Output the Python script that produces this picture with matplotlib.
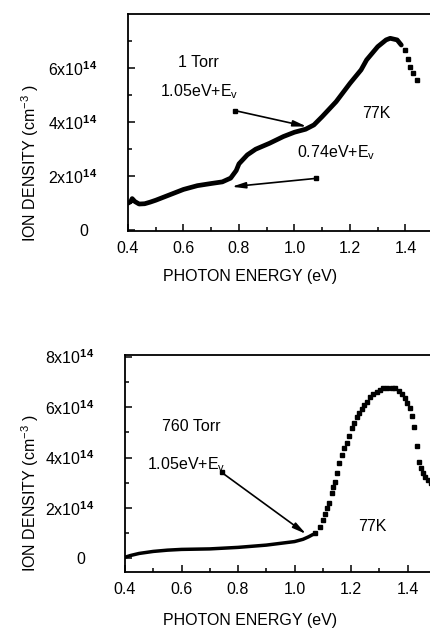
import numpy as np
import matplotlib.pyplot as plt

plt.rcParams['font.family'] = ['Liberation Sans', 'DejaVu Sans']
plt.rcParams['mathtext.fontset'] = 'custom'
plt.rcParams['mathtext.rm'] = 'Liberation Sans'
plt.rcParams['mathtext.it'] = 'Liberation Sans:italic'
plt.rcParams['mathtext.bf'] = 'Liberation Sans:bold'

# ion density in units of 1e14 cm^-3
# 1 Torr, dense part of the curve
e_top = [0.40, 0.41, 0.415, 0.425, 0.44, 0.46, 0.48, 0.50, 0.55, 0.60, 0.65, 0.70,
         0.74, 0.77, 0.79, 0.80, 0.83, 0.86, 0.91, 0.96, 1.00, 1.04, 1.07, 1.10,
         1.15, 1.20, 1.24, 1.26, 1.30, 1.33, 1.345, 1.37, 1.385]
n_top = [0.99, 1.05, 1.16, 1.05, 0.96, 0.97, 1.03, 1.10, 1.30, 1.50, 1.64, 1.72,
         1.78, 1.92, 2.20, 2.45, 2.78, 2.99, 3.21, 3.46, 3.62, 3.73, 3.89, 4.20,
         4.75, 5.43, 5.93, 6.30, 6.79, 7.04, 7.10, 7.04, 6.85]
# 1 Torr, sparse points at the high-energy end
e_top_tail = [1.398, 1.408, 1.418, 1.428, 1.442]
n_top_tail = [6.65, 6.35, 6.05, 5.80, 5.56]

# 760 Torr, dense part of the curve
e_bot = [0.40, 0.42, 0.45, 0.50, 0.55, 0.60, 0.70, 0.80, 0.90, 1.00, 1.03, 1.05, 1.065]
n_bot = [0.05, 0.12, 0.20, 0.28, 0.33, 0.36, 0.38, 0.44, 0.53, 0.67, 0.76, 0.86, 0.95]
# 760 Torr, individual points
e_bot_pts = [1.073, 1.090, 1.100, 1.108, 1.116, 1.123, 1.132, 1.137, 1.143, 1.152,
             1.159, 1.167, 1.175, 1.185, 1.194, 1.203, 1.211, 1.220, 1.229, 1.238,
             1.246, 1.256, 1.267, 1.279, 1.291, 1.303, 1.314, 1.329, 1.344, 1.356,
             1.368, 1.380, 1.391, 1.399, 1.409, 1.415, 1.423, 1.433, 1.441, 1.447,
             1.454, 1.462, 1.474, 1.483]
n_bot_pts = [1.00, 1.26, 1.52, 1.76, 1.99, 2.21, 2.58, 2.82, 3.04, 3.37,
             3.77, 4.10, 4.36, 4.56, 4.85, 5.16, 5.38, 5.59, 5.75, 5.91,
             6.08, 6.21, 6.38, 6.51, 6.61, 6.67, 6.74, 6.77, 6.77, 6.74,
             6.65, 6.51, 6.34, 6.17, 5.95, 5.64, 5.22, 4.46, 3.83, 3.57,
             3.37, 3.24, 3.11, 3.00]

x_ticks = [0.4, 0.6, 0.8, 1.0, 1.2, 1.4]
x_ticklabels = ['0.4', '0.6', '0.8', '1.0', '1.2', '1.4']
y_ticks_top = [0, 2, 4, 6]
y_ticks_bot = [0, 2, 4, 6, 8]
y_ticklabels = ['0  ', r'2x10$^{\mathbf{14}}$', r'4x10$^{\mathbf{14}}$',
                r'6x10$^{\mathbf{14}}$', r'8x10$^{\mathbf{14}}$']

FS = 11.5

fig = plt.figure(figsize=(4.31, 6.31), dpi=100)
ax1 = fig.add_axes([128 / 431, 1 - 231 / 631, 1 - 128 / 431, 217 / 631])
ax2 = fig.add_axes([125 / 431, 1 - 572 / 631, 1 - 125 / 431, 217 / 631])


def style_axes(ax, xmax, ylim, yticks):
    ax.set_xlim(0.4, xmax)
    ax.set_ylim(*ylim)
    ax.spines['right'].set_visible(False)
    for s in ['left', 'bottom', 'top']:
        ax.spines[s].set_linewidth(1.3)
    ax.set_xticks(x_ticks)
    ax.set_xticklabels(x_ticklabels, fontsize=FS)
    ax.set_xticks(np.arange(0.5, xmax, 0.2), minor=True)
    ax.set_yticks(yticks)
    ax.set_yticklabels(y_ticklabels[:len(yticks)], fontsize=FS)
    ax.set_yticks([1, 3, 5, 7], minor=True)
    ax.tick_params(which='both', direction='in', top=False, right=False, width=1.1)
    ax.tick_params(which='major', length=5)
    ax.tick_params(which='minor', length=3)
    ax.tick_params(axis='x', pad=7)
    ax.tick_params(axis='y', pad=22)


def arrow(ax, start, tip):
    ax.annotate('', xy=tip, xytext=start,
                arrowprops=dict(arrowstyle='-|>,head_length=0.8,head_width=0.18',
                                lw=1.2, color='k', shrinkA=0, shrinkB=0))
    ax.plot([start[0]], [start[1]], 's', color='k', ms=2.5)


# top panel: 1 Torr
style_axes(ax1, 1.492, (-0.04, 8.0), y_ticks_top)
ax1.plot(e_top, n_top, '-', color='k', lw=3.4, solid_capstyle='round')
ax1.plot(e_top_tail, n_top_tail, 's', color='k', ms=2.7)
ax1.text(0.58, 6.22, '1 Torr', fontsize=FS, va='center')
ax1.text(0.515, 5.11, r'1.05eV+E$_\mathrm{v}$', fontsize=FS, va='center')
ax1.text(1.243, 4.33, '77K', fontsize=FS, va='center')
ax1.text(1.009, 2.85, r'0.74eV+E$_\mathrm{v}$', fontsize=FS, va='center')
arrow(ax1, (0.786, 4.42), (1.044, 3.83))
arrow(ax1, (1.078, 1.91), (0.774, 1.60))

# bottom panel: 760 Torr
style_axes(ax2, 1.483, (-0.535, 8.06), y_ticks_bot)
ax2.plot(e_bot, n_bot, '-', color='k', lw=2.5, solid_capstyle='round')
ax2.plot(e_bot_pts, n_bot_pts, 's', color='k', ms=2.7)
ax2.text(0.531, 5.21, '760 Torr', fontsize=FS, va='center')
ax2.text(0.478, 3.70, r'1.05eV+E$_\mathrm{v}$', fontsize=FS, va='center')
ax2.text(1.225, 1.25, '77K', fontsize=FS, va='center')
arrow(ax2, (0.742, 3.41), (1.041, 0.97))

# axis titles
for yc in [163, 493]:
    fig.text(30 / 431, 1 - yc / 631, r'ION DENSITY (cm$^{-3}$ )', rotation=90,
             fontsize=FS, ha='center', va='center')
for yc in [277, 620]:
    fig.text(250 / 431, 1 - yc / 631, 'PHOTON ENERGY (eV)', fontsize=FS,
             ha='center', va='center')

fig.savefig('out.png', dpi=100)
